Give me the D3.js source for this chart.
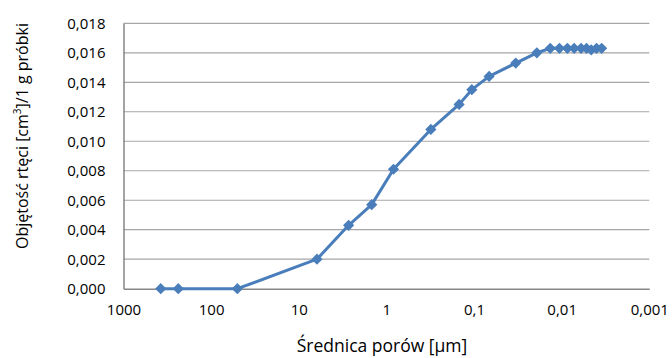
<!DOCTYPE html>
<html lang="pl">
<head>
<meta charset="UTF-8">
<title>Porozymetria</title>
<script src="https://d3js.org/d3.v7.min.js"></script>
<style>
body { margin: 0; background: white; }
svg { display: block; font-family: "Open Sans", sans-serif; }
</style>
</head>
<body>
<svg></svg>
<script>
// pore diameter [um] and cumulative mercury volume [cm3/g]
const diameters = [376, 237, 50.2, 6.2, 2.7, 1.47, 0.83, 0.311, 0.148, 0.106, 0.0673, 0.0334,
  0.0192, 0.0135, 0.0106, 0.0086, 0.0072, 0.0060, 0.0052, 0.0046, 0.0040, 0.0035];
const volumes = [0, 0, 0, 0.0020, 0.0043, 0.0057, 0.0081, 0.0108, 0.0125, 0.0135, 0.0144, 0.0153,
  0.0160, 0.0163, 0.0163, 0.0163, 0.0163, 0.0163, 0.0163, 0.0162, 0.0163, 0.0163];
const xTicks = [1000, 100, 10, 1, 0.1, 0.01, 0.001];
const yTicks = [0, 0.002, 0.004, 0.006, 0.008, 0.010, 0.012, 0.014, 0.016, 0.018];

const width = 672, height = 358;
const svg = d3.select("svg").attr("width", width).attr("height", height);

let x = d3.scaleLog().domain([1000, 0.001]).range([123.5, 649.3]);
let y = d3.scaleLinear().domain([0, 0.018]).range([288.7, 23.3]);

const comma = v => String(v).replace(".", ",");

// gridlines
svg.append("g").selectAll("line").data(yTicks.slice(1)).enter().append("line")
  .attr("x1", x(1000)).attr("x2", x(0.001))
  .attr("y1", d => y(d)).attr("y2", d => y(d))
  .attr("stroke", "#a6a6a6").attr("stroke-width", 1.2);

// axes
let left = svg.append("g").attr("transform", "translate(" + x(1000) + ",0)")
  .call(d3.axisLeft(y).tickValues(yTicks).tickSize(0).tickPadding(18)
    .tickFormat(d => d3.format(".3f")(d).replace(".", ",")));
let bottom = svg.append("g").attr("transform", "translate(0," + y(0) + ")")
  .call(d3.axisBottom(x).tickValues(xTicks).tickSize(0).tickPadding(16).tickFormat(comma));

[left, bottom].forEach(g => {
  g.select(".domain").attr("stroke", "#868686").attr("stroke-width", 1.5);
  g.selectAll("text").attr("font-size", 15).attr("fill", "#000")
    .attr("font-family", "Open Sans, sans-serif");
});

// series
const pts = diameters.map((d, i) => ({d: d, v: volumes[i]}));
svg.append("path")
  .attr("d", d3.line().x(p => x(p.d)).y(p => y(p.v))(pts))
  .attr("fill", "none").attr("stroke", "#4a7ebb").attr("stroke-width", 3)
  .attr("stroke-linejoin", "round");
svg.append("g").selectAll("path").data(pts).enter().append("path")
  .attr("transform", p => "translate(" + x(p.d) + "," + y(p.v) + ")")
  .attr("d", d3.symbol(d3.symbolDiamond2, 80))
  .attr("fill", "#4a7ebb");

// titles
svg.append("text")
  .attr("transform", "translate(24,136) rotate(-90)")
  .attr("text-anchor", "middle").attr("dominant-baseline", "middle")
  .attr("font-size", 16)
  .html("Objętość rtęci [cm<tspan font-size='10' dy='-6'>3</tspan><tspan dy='6'>]/1 g próbki</tspan>");
svg.append("text")
  .attr("x", 382).attr("y", 347)
  .attr("text-anchor", "middle").attr("dominant-baseline", "middle")
  .attr("font-size", 17.5)
  .text("Średnica porów [µm]");
</script>
</body>
</html>
